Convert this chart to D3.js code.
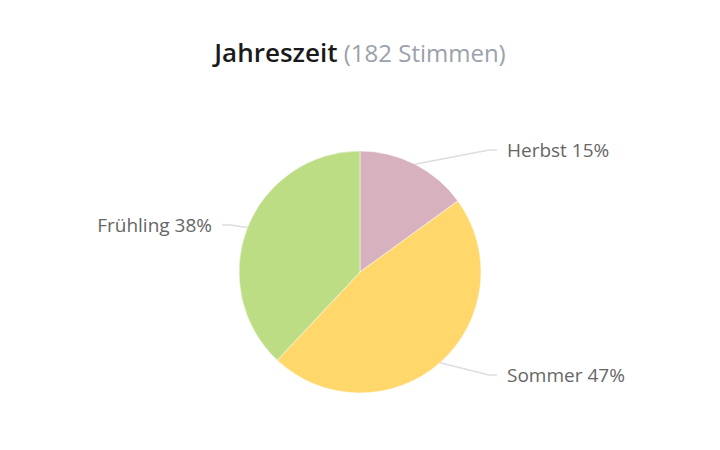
<!DOCTYPE html>
<html><head><meta charset="utf-8">
<script src="https://cdn.jsdelivr.net/npm/d3@7"></script>
<style>html,body{margin:0;padding:0;background:#fff;}svg{display:block;}</style>
</head><body>
<svg id="chart" width="720" height="450"></svg>
<script>
const categories = ["Herbst", "Sommer", "Frühling"];
const values = [15, 47, 38];
const colors = ["#d8b1bf", "#ffd76b", "#bcdd84"];
const titleMain = "Jahreszeit";
const titleSub = "(182 Stimmen)";

const svg = d3.select("#chart");
const W = 720, H = 450;
const cx = 360, cy = 272, R = 121;

const title = svg.append("text")
  .attr("x", W/2).attr("y", 62)
  .attr("text-anchor", "middle")
  .style("font-family", "'Open Sans', sans-serif");
title.append("tspan").text(titleMain)
  .style("font-size", "26px").style("fill", "#1a1a1a").style("font-weight", 600);
title.append("tspan").text(" " + titleSub)
  .style("font-size", "24px").style("fill", "#9aa1ab");

const data = categories.map((c, i) => ({cat: c, value: values[i], color: colors[i]}));
const pie = d3.pie().value(d => d.value).sort(null);
const arcs = pie(data);
const arc = d3.arc().innerRadius(0).outerRadius(R);

const g = svg.append("g").attr("transform", `translate(${cx},${cy})`);
g.selectAll("path").data(arcs).join("path")
  .attr("d", arc).attr("fill", d => d.data.color)
  .attr("stroke", "#fff").attr("stroke-width", 0.5);

const labelPos = [
  {x: 137, y: -122, anchor: "start"},
  {x: 137, y: 103, anchor: "start"},
  {x: -138, y: -47, anchor: "end"}
];

arcs.forEach((a, i) => {
  const mid = (a.startAngle + a.endAngle) / 2;
  const ex = R * Math.sin(mid), ey = -R * Math.cos(mid);
  const lp = labelPos[i];
  const dir = lp.anchor === "start" ? 1 : -1;
  const elbowX = lp.x - dir * 8;
  const pts = [[ex, ey], [elbowX, lp.y], [lp.x, lp.y]];
  g.append("path")
    .attr("d", d3.line()(pts))
    .attr("fill", "none").attr("stroke", "#dddde3").attr("stroke-width", 1.5);
  g.append("text")
    .attr("x", lp.x + dir * 10).attr("y", lp.y + 7)
    .attr("text-anchor", lp.anchor)
    .style("font-family", "'Open Sans', sans-serif")
    .style("font-size", "19px").style("fill", "#666")
    .text(`${a.data.cat} ${a.data.value}%`);
});
</script>
</body></html>
